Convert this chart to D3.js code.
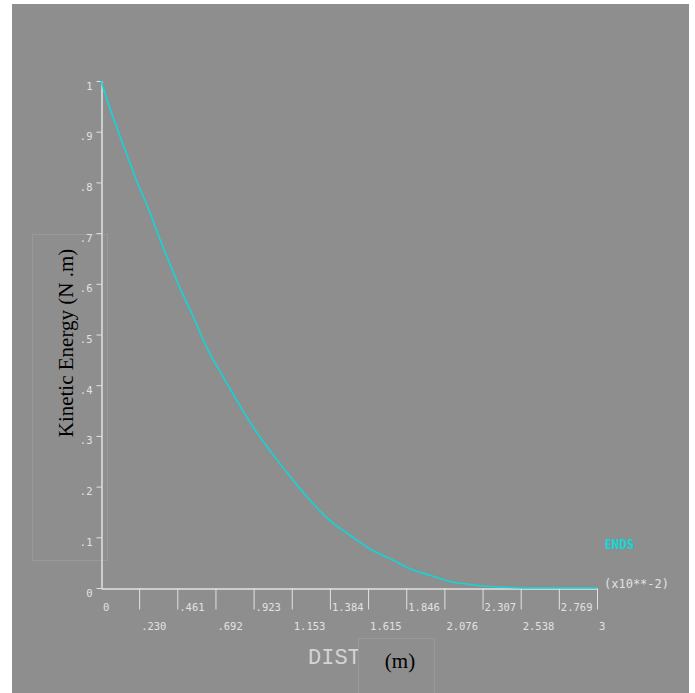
<!DOCTYPE html>
<html>
<head>
<meta charset="utf-8">
<script src="https://cdn.jsdelivr.net/npm/d3@7"></script>
<style>
  html, body { margin: 0; padding: 0; background: #ffffff; }
  svg { display: block; }
</style>
</head>
<body>
<svg id="chart" width="695" height="693"></svg>
<script>
// ---- data ----
const distValues = [0, 0.054, 0.105, 0.165, 0.226, 0.286, 0.347, 0.407, 0.488, 0.558, 0.639, 0.740, 0.821, 0.921, 1.022, 1.163, 1.264, 1.385, 1.506, 1.627, 1.748, 1.869, 1.990, 2.111, 2.232, 2.353, 2.474, 2.613, 3.0];
const energyValues = [1.0, 0.946, 0.900, 0.847, 0.795, 0.749, 0.696, 0.647, 0.584, 0.535, 0.475, 0.416, 0.370, 0.317, 0.271, 0.212, 0.173, 0.133, 0.104, 0.077, 0.058, 0.038, 0.025, 0.013, 0.007, 0.003, 0.001, 0.0, 0.0];
const xTickValues = [0, 0.2307, 0.4615, 0.6923, 0.9231, 1.1538, 1.3846, 1.6154, 1.8462, 2.0769, 2.3077, 2.5385, 2.7692, 3];
const xTickLabels = ["0", ".230", ".461", ".692", ".923", "1.153", "1.384", "1.615", "1.846", "2.076", "2.307", "2.538", "2.769", "3"];
const yTickValues = [0, 0.1, 0.2, 0.3, 0.4, 0.5, 0.6, 0.7, 0.8, 0.9, 1];
const yTickLabels = ["0", ".1", ".2", ".3", ".4", ".5", ".6", ".7", ".8", ".9", "1"];
const seriesName = "ENDS";
const xScaleNote = "(x10**-2)";
const xTitle = "DIST";
const xUnit = "(m)";
const yTitle = "Kinetic Energy (N .m)";

const BG = "#8e8e8e";
const FG = "#e2e2e2";
const CYAN = "#12d6d6";
const monoFont = "'DejaVu Sans Mono', monospace";

const svg = d3.select("#chart");
svg.append("rect").attr("x", 0).attr("y", 0).attr("width", 695).attr("height", 693).attr("fill", "#ffffff");
svg.append("rect").attr("x", 12).attr("y", 4).attr("width", 677).attr("height", 689).attr("fill", BG);

const x = d3.scaleLinear().domain([0, 3]).range([101, 597]);
const y = d3.scaleLinear().domain([0, 1]).range([588, 81]);

// y-label box (drawn first, border only)
svg.append("rect")
  .attr("x", 32.5).attr("y", 234.5).attr("width", 75).attr("height", 326)
  .attr("fill", "none").attr("stroke", "#999999").attr("stroke-width", 1);

// Y axis
const yAxis = d3.axisLeft(y)
  .tickValues(yTickValues)
  .tickFormat((d, i) => yTickLabels[i])
  .tickSizeInner(5)
  .tickSizeOuter(0);
const gy = svg.append("g").attr("transform", "translate(101.5,0)").call(yAxis);
gy.select(".domain").attr("stroke", FG).attr("stroke-width", 1.5);
gy.selectAll(".tick line").attr("stroke", FG).attr("stroke-width", 1);
gy.selectAll(".tick text")
  .attr("x", -9).attr("y", 8).attr("dy", null)
  .attr("text-anchor", "end")
  .attr("fill", FG)
  .style("font-family", monoFont).style("font-size", "10.5px");

// X axis
const xAxis = d3.axisBottom(x)
  .tickValues(xTickValues)
  .tickFormat((d, i) => xTickLabels[i])
  .tickSizeInner(21)
  .tickSizeOuter(0);
const gx = svg.append("g").attr("transform", "translate(0,588.5)").call(xAxis);
gx.select(".domain").attr("stroke", FG).attr("stroke-width", 1.5);
gx.selectAll(".tick line").attr("stroke", FG).attr("stroke-width", 1)
  .attr("display", (d, i) => i === 0 ? "none" : null);
gx.selectAll(".tick text")
  .attr("x", 1.5)
  .attr("y", (d, i) => i % 2 === 0 ? 22.5 : 41.5)
  .attr("dy", null)
  .attr("text-anchor", "start")
  .attr("fill", FG)
  .style("font-family", monoFont).style("font-size", "10.5px");

// Curve
const line = d3.line()
  .x((d, i) => x(distValues[i]))
  .y((d, i) => y(energyValues[i]))
  .curve(d3.curveMonotoneX);
svg.append("path")
  .datum(energyValues)
  .attr("d", line)
  .attr("fill", "none")
  .attr("stroke", CYAN)
  .attr("stroke-width", 1.6);

// Series name
svg.append("text")
  .attr("x", 605).attr("y", 549)
  .attr("fill", CYAN)
  .attr("textLength", 29).attr("lengthAdjust", "spacingAndGlyphs")
  .style("font-family", "'DejaVu Sans Condensed', 'DejaVu Sans', sans-serif").style("font-size", "14px").style("font-weight", "bold")
  .text(seriesName);

// Scale note
svg.append("text")
  .attr("x", 604).attr("y", 588)
  .attr("fill", FG)
  .style("font-family", monoFont).style("font-size", "12px")
  .text(xScaleNote);

// DIST title
svg.append("text")
  .attr("x", 308).attr("y", 664)
  .attr("fill", "#d4d4d4")
  .style("font-family", "'Liberation Mono', monospace").style("font-size", "22px")
  .text(xTitle);

// x-unit box (covers part of DIST)
svg.append("rect")
  .attr("x", 358.5).attr("y", 638.5).attr("width", 76).attr("height", 60)
  .attr("fill", BG).attr("stroke", "#999999").attr("stroke-width", 1);
svg.append("text")
  .attr("x", 400).attr("y", 668)
  .attr("text-anchor", "middle")
  .attr("fill", "#000000")
  .style("font-family", "'Liberation Serif', 'Times New Roman', serif").style("font-size", "21px")
  .text(xUnit);

// Y title
svg.append("text")
  .attr("transform", "translate(73,343) rotate(-90)")
  .attr("text-anchor", "middle")
  .attr("fill", "#000000")
  .style("font-family", "'Liberation Serif', 'Times New Roman', serif").style("font-size", "21px")
  .text(yTitle);
</script>
</body>
</html>
